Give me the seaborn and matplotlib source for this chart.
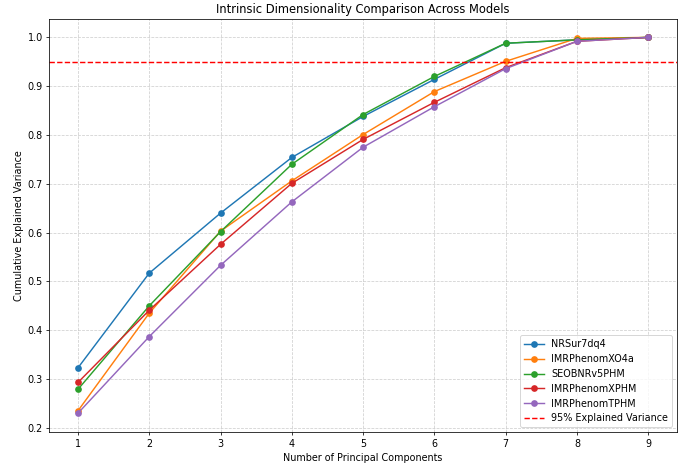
import numpy as np
import pandas as pd
import matplotlib
matplotlib.use("Agg")
import matplotlib.pyplot as plt
import seaborn as sns

# Data
components = [1, 2, 3, 4, 5, 6, 7, 8, 9]
models = ["NRSur7dq4", "IMRPhenomXO4a", "SEOBNRv5PHM", "IMRPhenomXPHM", "IMRPhenomTPHM"]
nrsur = [0.323, 0.517, 0.640, 0.754, 0.838, 0.914, 0.988, 0.995, 1.0]
xo4a = [0.235, 0.435, 0.603, 0.706, 0.801, 0.889, 0.951, 0.998, 1.0]
seob = [0.279, 0.450, 0.602, 0.740, 0.842, 0.920, 0.988, 0.995, 1.0]
xphm = [0.293, 0.441, 0.576, 0.701, 0.791, 0.867, 0.938, 0.992, 1.0]
tphm = [0.230, 0.387, 0.533, 0.663, 0.775, 0.858, 0.936, 0.992, 1.0]
threshold = 0.95

rows = []
for name, vals in zip(models, [nrsur, xo4a, seob, xphm, tphm]):
    for c, v in zip(components, vals):
        rows.append({"Components": c, "Variance": v, "Model": name})
df = pd.DataFrame(rows)

dpi = 69.2
fig, ax = plt.subplots(figsize=(692 / dpi, 465 / dpi), dpi=dpi)

sns.lineplot(data=df, x="Components", y="Variance", hue="Model", hue_order=models,
             palette=sns.color_palette("tab10", 5), marker="o", markersize=7,
             markeredgewidth=0, linewidth=1.5, ax=ax)
ax.axhline(threshold, color="red", linestyle="--", linewidth=1.5, label="95% Explained Variance")

ax.set_title("Intrinsic Dimensionality Comparison Across Models")
ax.set_xlabel("Number of Principal Components")
ax.set_ylabel("Cumulative Explained Variance")
ax.set_xticks(components)
ax.grid(True, linestyle="--", alpha=0.6)
ax.legend(loc="lower right")

fig.subplots_adjust(left=0.0715, right=0.978, top=0.960, bottom=0.071)
plt.savefig("out.png", dpi=dpi)
